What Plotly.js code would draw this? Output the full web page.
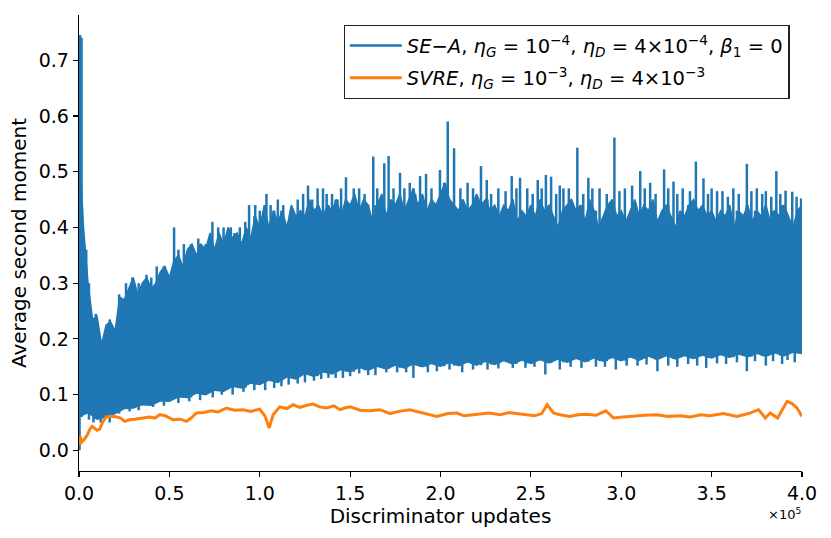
<!DOCTYPE html>
<html>
<head>
<meta charset="utf-8">
<script src="https://cdn.plot.ly/plotly-3.0.1.min.js"></script>
<style>html, body { margin: 0; padding: 0; background: #fff; }</style>
</head>
<body>
<div id="chart" style="width:831px;height:538px"></div>
<script>
// SE-A: the raw curve is far too dense to list, so it is kept as the
// upper edge of the band (every 2500 updates), the lower edge (every 5000)
// and the spikes / dips that stick out of it.
const TOP_STEP = 2500;
const seaTop = [
  0.56, 0.40, 0.30, 0.235, 0.24, 0.19, 0.225, 0.23, 0.215, 0.275,
  0.27, 0.29, 0.31, 0.28, 0.30, 0.31, 0.29, 0.30, 0.32, 0.33,
  0.31, 0.34, 0.35, 0.33, 0.36, 0.37, 0.35, 0.37, 0.36, 0.39,
  0.36, 0.39, 0.37, 0.40, 0.38, 0.39, 0.37, 0.40, 0.38, 0.42,
  0.40, 0.44, 0.40, 0.43, 0.41, 0.43, 0.40, 0.44, 0.42, 0.43,
  0.42, 0.45, 0.43, 0.44, 0.42, 0.44, 0.43, 0.45, 0.42, 0.45,
  0.44, 0.46, 0.43, 0.45, 0.44, 0.41, 0.44, 0.46, 0.42, 0.45,
  0.44, 0.46, 0.43, 0.45, 0.47, 0.44, 0.46, 0.43, 0.45, 0.44,
  0.46, 0.48, 0.45, 0.44, 0.43, 0.45, 0.43, 0.44, 0.46, 0.44,
  0.45, 0.43, 0.44, 0.42, 0.44, 0.43, 0.45, 0.41, 0.43, 0.42,
  0.44, 0.42, 0.45, 0.43, 0.44, 0.42, 0.40, 0.43, 0.44, 0.45,
  0.43, 0.44, 0.41, 0.45, 0.43, 0.40, 0.42, 0.44, 0.45, 0.42,
  0.43, 0.41, 0.43, 0.45, 0.42, 0.44, 0.43, 0.45, 0.41, 0.43,
  0.44, 0.42, 0.40, 0.43, 0.42, 0.44, 0.45, 0.43, 0.44, 0.42,
  0.43, 0.41, 0.43, 0.42, 0.44, 0.40, 0.43, 0.42, 0.44, 0.41,
  0.43, 0.42, 0.44, 0.41, 0.43, 0.42, 0.44, 0.42, 0.40, 0.43,
  0.44,
];

const BOTTOM_STEP = 5000;
const seaBottom = [
  0.06, 0.068, 0.056, 0.06, 0.066, 0.075, 0.076, 0.082, 0.081, 0.089,
  0.088, 0.096, 0.095, 0.103, 0.1, 0.108, 0.106, 0.115, 0.112, 0.121,
  0.118, 0.126, 0.122, 0.132, 0.128, 0.138, 0.133, 0.141, 0.137, 0.145,
  0.141, 0.149, 0.144, 0.151, 0.146, 0.153, 0.148, 0.155, 0.15, 0.156,
  0.151, 0.158, 0.152, 0.159, 0.153, 0.16, 0.154, 0.161, 0.155, 0.162,
  0.156, 0.163, 0.157, 0.164, 0.158, 0.165, 0.159, 0.166, 0.16, 0.167,
  0.161, 0.168, 0.162, 0.169, 0.163, 0.17, 0.164, 0.17, 0.165, 0.171,
  0.166, 0.172, 0.167, 0.173, 0.168, 0.174, 0.169, 0.175, 0.17, 0.176,
  0.174,
];

// tall isolated spikes
const seaSpikeX = [
  600, 1400, 4000, 9300, 22200, 29500, 37300, 43000, 52600, 58000,
  73800, 80000, 89000, 94100, 97500, 103700, 110000, 126700, 132000, 140000,
  147700, 152000, 162800, 168900, 171300, 177600, 183000, 188700, 192000, 199700,
  204000, 207500, 215000, 222400, 225600, 232000, 239400, 244000, 248000, 253800,
  258300, 261200, 266000, 271000, 275700, 281800, 288000, 296200, 302000, 306000,
  310500, 316000, 323700, 328900, 334000, 341300, 345500, 350000, 356000, 362000,
  369500, 375000, 380000, 385800, 390900, 394600, 399500,
];
const seaSpikeY = [
  0.745, 0.74, 0.36, 0.245, 0.28, 0.31, 0.315, 0.33, 0.40, 0.37,
  0.41, 0.40, 0.40, 0.44, 0.44, 0.46, 0.45, 0.475, 0.47, 0.46,
  0.49, 0.47, 0.527, 0.515, 0.528, 0.498, 0.48, 0.492, 0.496, 0.503,
  0.59, 0.542, 0.48, 0.51, 0.485, 0.47, 0.492, 0.489, 0.47, 0.485,
  0.494, 0.491, 0.475, 0.47, 0.543, 0.489, 0.47, 0.561, 0.47, 0.475,
  0.501, 0.48, 0.504, 0.482, 0.47, 0.518, 0.488, 0.47, 0.465, 0.47,
  0.514, 0.47, 0.465, 0.501, 0.466, 0.464, 0.452,
];

// shorter spikes forming the fringe on top of the band
const seaGrassX = [
  17000, 26000, 33000, 40000, 47000, 55000, 62000, 66000, 70000, 77000,
  84000, 86000, 92000, 100000, 106000, 113000, 117000, 121000, 124000, 129000,
  135000, 137000, 143000, 145000, 155000, 158000, 165000, 174000, 180000, 186000,
  195000, 202000, 211000, 218000, 228000, 236000, 242000, 251000, 256000, 264000,
  268000, 279000, 284000, 292000, 299000, 313000, 319000, 326000, 331000, 338000,
  348000, 353000, 359000, 365000, 372000, 378000, 383000, 388000, 397000,
];
const seaGrassY = [
  0.235, 0.30, 0.30, 0.31, 0.33, 0.36, 0.37, 0.38, 0.37, 0.40,
  0.40, 0.39, 0.41, 0.43, 0.44, 0.44, 0.43, 0.45, 0.46, 0.45,
  0.47, 0.46, 0.45, 0.47, 0.47, 0.46, 0.47, 0.47, 0.47, 0.46,
  0.47, 0.48, 0.47, 0.47, 0.46, 0.465, 0.47, 0.46, 0.47, 0.46,
  0.47, 0.46, 0.47, 0.46, 0.465, 0.47, 0.46, 0.47, 0.46, 0.465,
  0.46, 0.465, 0.455, 0.46, 0.465, 0.46, 0.455, 0.46, 0.455,
];

// downward spikes under the band
const seaDipX = [
  300, 5500, 8000, 12000, 17000, 28000, 33000, 41000, 47000, 55000,
  61000, 67000, 74000, 79000, 85000, 91000, 97000, 103000, 108000, 112000,
  116000, 121000, 125000, 130000, 134000, 138000, 142000, 146000, 150000, 155000,
  160000, 164000, 170000, 176000, 181000, 185000, 193000, 198000, 205000, 212000,
  218000, 226000, 232000, 240000, 247000, 252000, 258000, 266000, 272000, 278000,
  286000, 291000, 297000, 303000, 309000, 314000, 320000, 326000, 331000, 337000,
  342000, 347000, 353000, 358000, 364000, 369500, 374000, 380000, 384000, 389000,
  392000, 396000,
];
const seaDipY = [
  0.0, 0.055, 0.05, 0.05, 0.05, 0.07, 0.072, 0.078, 0.08, 0.085,
  0.088, 0.09, 0.095, 0.10, 0.1, 0.105, 0.108, 0.108, 0.112, 0.115,
  0.118, 0.12, 0.122, 0.125, 0.128, 0.13, 0.13, 0.13, 0.133, 0.138,
  0.135, 0.135, 0.14, 0.14, 0.14, 0.13, 0.14, 0.142, 0.145, 0.14,
  0.145, 0.145, 0.147, 0.148, 0.148, 0.15, 0.136, 0.145, 0.15, 0.148,
  0.15, 0.15, 0.145, 0.152, 0.152, 0.154, 0.142, 0.152, 0.15, 0.155,
  0.152, 0.148, 0.156, 0.155, 0.158, 0.142, 0.16, 0.152, 0.16, 0.155,
  0.162, 0.158,
];

// SVRE, smooth enough to list point by point
const svreX = [
  0, 600, 1500, 3000, 4500, 6000, 7200, 8500, 10000, 11500,
  13000, 15000, 18000, 21000, 23000, 25300, 28000, 31000, 35000, 39000,
  42000, 44700, 48000, 52000, 56000, 59500, 62000, 65000, 69000, 73000,
  77000, 81600, 86000, 90800, 95000, 100000, 103000, 105200, 107400, 111000,
  115000, 118500, 122000, 126000, 129600, 133000, 137000, 141000, 144400, 147000,
  150000, 155500, 161000, 166500, 172000, 177000, 183000, 190000, 198000, 204000,
  209000, 213000, 218000, 227000, 233000, 238000, 242000, 247700, 252000, 256000,
  259000, 262500, 266000, 271500, 276000, 281000, 286000, 291500, 295700, 301000,
  306800, 313000, 319700, 326000, 332600, 338000, 344000, 349000, 356600, 364000,
  370400, 376000, 379700, 382400, 386500, 391700, 394500, 397200, 400000,
];
const svreY = [
  0.01, 0.025, 0.015, 0.02, 0.027, 0.038, 0.043, 0.04, 0.036, 0.038,
  0.05, 0.06, 0.061, 0.06, 0.058, 0.052, 0.055, 0.056, 0.058, 0.06,
  0.058, 0.064, 0.062, 0.055, 0.056, 0.052, 0.058, 0.067, 0.068, 0.071,
  0.069, 0.076, 0.072, 0.073, 0.07, 0.074, 0.061, 0.04, 0.064, 0.078,
  0.075, 0.082, 0.077, 0.081, 0.083, 0.078, 0.076, 0.08, 0.073, 0.076,
  0.078, 0.072, 0.071, 0.073, 0.066, 0.07, 0.073, 0.067, 0.061, 0.066,
  0.067, 0.062, 0.064, 0.067, 0.064, 0.068, 0.066, 0.064, 0.062, 0.066,
  0.082, 0.067, 0.064, 0.061, 0.064, 0.065, 0.063, 0.071, 0.058, 0.06,
  0.062, 0.063, 0.064, 0.061, 0.062, 0.06, 0.064, 0.062, 0.066, 0.061,
  0.066, 0.073, 0.058, 0.067, 0.058, 0.088, 0.084, 0.076, 0.061,
];

const xTickVals = [0, 50000, 100000, 150000, 200000, 250000, 300000, 350000, 400000];
const xTickText = ['0.0', '0.5', '1.0', '1.5', '2.0', '2.5', '3.0', '3.5', '4.0'];
const yTickVals = [0, 0.1, 0.2, 0.3, 0.4, 0.5, 0.6, 0.7];
const yTickText = ['0.0', '0.1', '0.2', '0.3', '0.4', '0.5', '0.6', '0.7'];

const BLUE = '#1f77b4';
const ORANGE = '#ff7f0e';
const FONT = 'DejaVu Sans, sans-serif';

// band polygon: top edge left->right, bottom edge right->left
const bandX = [];
const bandY = [];
seaTop.forEach((v, i) => { bandX.push(i * TOP_STEP); bandY.push(v); });
for (let i = seaBottom.length - 1; i >= 0; i -= 1) {
  bandX.push(i * BOTTOM_STEP);
  bandY.push(seaBottom[i]);
}

// spikes start from inside the band so only the part sticking out shows
const spikeX = [];
const spikeY = [];
function addUp(xs, ys) {
  xs.forEach((x, i) => {
    spikeX.push(x, x, null);
    spikeY.push(seaBottom[Math.round(x / BOTTOM_STEP)], ys[i], null);
  });
}
addUp(seaSpikeX, seaSpikeY);
addUp(seaGrassX, seaGrassY);
seaDipX.forEach((x, i) => {
  spikeX.push(x, x, null);
  spikeY.push(seaTop[Math.round(x / TOP_STEP)], seaDipY[i], null);
});

const traces = [
  {
    // band body
    type: 'scatter',
    mode: 'lines',
    x: bandX,
    y: bandY,
    fill: 'toself',
    fillcolor: BLUE,
    line: { color: BLUE, width: 1.5 },
    showlegend: false,
    hoverinfo: 'skip',
  },
  {
    type: 'scatter',
    mode: 'lines',
    x: spikeX,
    y: spikeY,
    legendgroup: 'sea',
    name: '<i>SE</i>−<i>A</i>, <i>η<sub>G</sub></i> = 10<sup>−4</sup>, <i>η<sub>D</sub></i> = 4×10<sup>−4</sup>, <i>β</i><sub>1</sub> = 0',
    line: { color: BLUE, width: 2.5 },
    connectgaps: false,
  },
  {
    type: 'scatter',
    mode: 'lines',
    x: svreX,
    y: svreY,
    legendgroup: 'svre',
    name: '<i>SVRE</i>, <i>η<sub>G</sub></i> = 10<sup>−3</sup>, <i>η<sub>D</sub></i> = 4×10<sup>−3</sup>',
    line: { color: ORANGE, width: 3 },
  },
];

const layout = {
  width: 831,
  height: 538,
  margin: { l: 79, r: 29, t: 15, b: 67 },
  paper_bgcolor: '#fff',
  plot_bgcolor: '#fff',
  font: { family: FONT, size: 19, color: '#000' },
  showlegend: true,
  legend: {
    x: 0.366,
    y: 0.978,
    xanchor: 'left',
    yanchor: 'top',
    bgcolor: '#fff',
    bordercolor: '#222',
    borderwidth: 1.2,
    tracegroupgap: 4,
    itemwidth: 52,
    font: { family: FONT, size: 19.5, color: '#000' },
  },
  xaxis: {
    range: [0, 400000],
    tickvals: xTickVals,
    ticktext: xTickText,
    showgrid: false,
    zeroline: false,
    showline: true,
    linecolor: '#000',
    linewidth: 1.3,
    ticks: 'outside',
    ticklen: 5,
    tickwidth: 1.2,
    tickcolor: '#000',
    tickfont: { family: FONT, size: 19 },
    title: { text: 'Discriminator updates', font: { family: FONT, size: 20 }, standoff: 4 },
  },
  yaxis: {
    range: [-0.037, 0.781],
    tickvals: yTickVals,
    ticktext: yTickText,
    showgrid: false,
    zeroline: false,
    showline: true,
    linecolor: '#000',
    linewidth: 1.3,
    ticks: 'outside',
    ticklen: 5,
    tickwidth: 1.2,
    tickcolor: '#000',
    tickfont: { family: FONT, size: 19 },
    title: { text: 'Average second moment', font: { family: FONT, size: 20 }, standoff: 6 },
  },
  annotations: [
    {
      text: '×10<sup>5</sup>',
      xref: 'paper',
      yref: 'paper',
      x: 1.002,
      y: -0.072,
      xanchor: 'right',
      yanchor: 'top',
      showarrow: false,
      font: { family: FONT, size: 13, color: '#000' },
    },
  ],
};

Plotly.newPlot('chart', traces, layout, { displayModeBar: false, staticPlot: true });
</script>
</body>
</html>
